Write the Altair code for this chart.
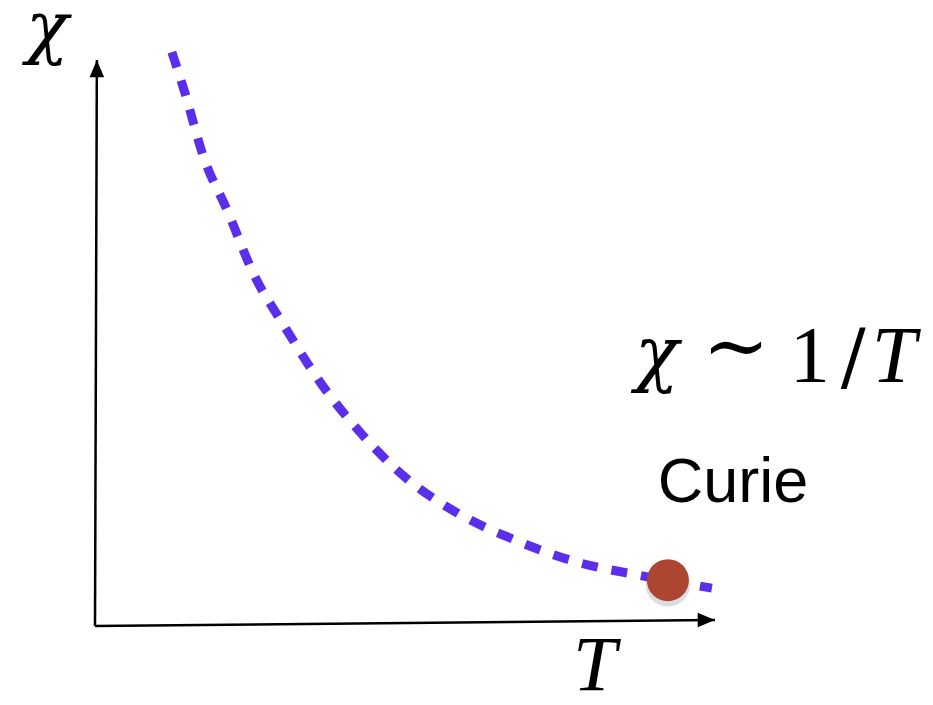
import altair as alt
import pandas as pd

# Curve chi ~ 1/T (arbitrary units)
curve_T = [1.24, 1.45, 1.74, 2.15, 2.55, 3.07, 3.63, 4.27, 5.00, 5.84, 6.77, 7.77, 8.76, 9.95]
curve_chi = [10.14, 9.42, 8.32, 7.30, 6.24, 5.27, 4.31, 3.43, 2.63, 2.00, 1.52, 1.13, 0.90, 0.67]

# Marked point
dot_T = [9.24]
dot_chi = [0.81]

# Axis arrows (start -> tip)
axis_name = ["T", "chi"]
axis_T0 = [0.0, 0.0]
axis_chi0 = [0.0, 0.0]
axis_T1 = [10.0, 0.03]
axis_chi1 = [0.106, 10.0]

# Text labels (math pieces + plain text)
lab_text = ["χ", "T", "χ", "∼", "1", "/", "T", "Curie"]
lab_T = [-0.77, 8.06, 8.71, 10.34, 11.53, 12.23, 12.53, 10.29]
lab_chi = [10.16, -1.13, 4.38, 4.47, 4.31, 4.31, 4.31, 2.19]
lab_font = ["DejaVu Serif", "Liberation Serif", "DejaVu Serif", "DejaVu Serif",
            "Liberation Serif", "DejaVu Serif", "Liberation Serif", "Liberation Sans"]
lab_style = ["italic", "italic", "italic", "normal", "normal", "normal", "italic", "normal"]
lab_size = [70, 78, 72, 80, 80, 74, 80, 63]
lab_anchor = ["center", "center", "left", "center", "center", "center", "left", "center"]

xs = alt.Scale(domain=[-1.4032, 13.387], nice=False, zero=False)
ys = alt.Scale(domain=[-1.2544, 10.919], nice=False, zero=False)

curve_df = pd.DataFrame({"T": curve_T, "chi": curve_chi})
dot_df = pd.DataFrame({"T": dot_T, "chi": dot_chi})
axis_df = pd.DataFrame({"name": axis_name, "T0": axis_T0, "chi0": axis_chi0,
                        "T1": axis_T1, "chi1": axis_chi1})
lab_df = pd.DataFrame({"text": lab_text, "T": lab_T, "chi": lab_chi, "font": lab_font,
                       "style": lab_style, "size": lab_size, "anchor": lab_anchor})

X = lambda f: alt.X(f, type="quantitative", scale=xs, axis=None)
Y = lambda f: alt.Y(f, type="quantitative", scale=ys, axis=None)

axes = alt.Chart(axis_df).mark_rule(color="black", strokeWidth=2.5).encode(
    x=X("T0"), y=Y("chi0"), x2="T1", y2="chi1")

arrow_x = alt.Chart(axis_df[axis_df["name"] == "T"]).mark_point(
    shape="M0,0 L-1,-0.42 L-1,0.42 Z", filled=True, color="black", opacity=1, size=1200
).encode(x=X("T1"), y=Y("chi1"))

arrow_y = alt.Chart(axis_df[axis_df["name"] == "chi"]).mark_point(
    shape="M0,0 L-0.42,1 L0.42,1 Z", filled=True, color="black", opacity=1, size=1200
).encode(x=X("T1"), y=Y("chi1"))

line = alt.Chart(curve_df).mark_line(
    color="#5B2EEB", strokeWidth=9, strokeDash=[16, 14], strokeCap="butt",
    interpolate="monotone"
).encode(x=X("T"), y=Y("chi"), order="T")

shadow = alt.Chart(dot_df).mark_point(
    shape="circle", filled=True, color="#555555", opacity=0.2, size=2000, yOffset=4
).encode(x=X("T"), y=Y("chi"))

dot = alt.Chart(dot_df).mark_point(
    shape="circle", filled=True, color="#AC4532", opacity=1, size=1764
).encode(x=X("T"), y=Y("chi"))

layers = [axes, arrow_x, arrow_y, line, shadow, dot]
for i in range(len(lab_text)):
    layers.append(
        alt.Chart(lab_df.iloc[[i]]).mark_text(
            font=lab_font[i], fontStyle=lab_style[i], fontSize=lab_size[i],
            align=lab_anchor[i], baseline="alphabetic", color="black"
        ).encode(x=X("T"), y=Y("chi"), text="text")
    )

chart = alt.layer(*layers).properties(
    width=917, height=689, padding=0, autosize=alt.AutoSizeParams(type="none")
).configure_view(stroke=None)

chart.save("out.html", embed_options={"renderer": "svg", "actions": False})
